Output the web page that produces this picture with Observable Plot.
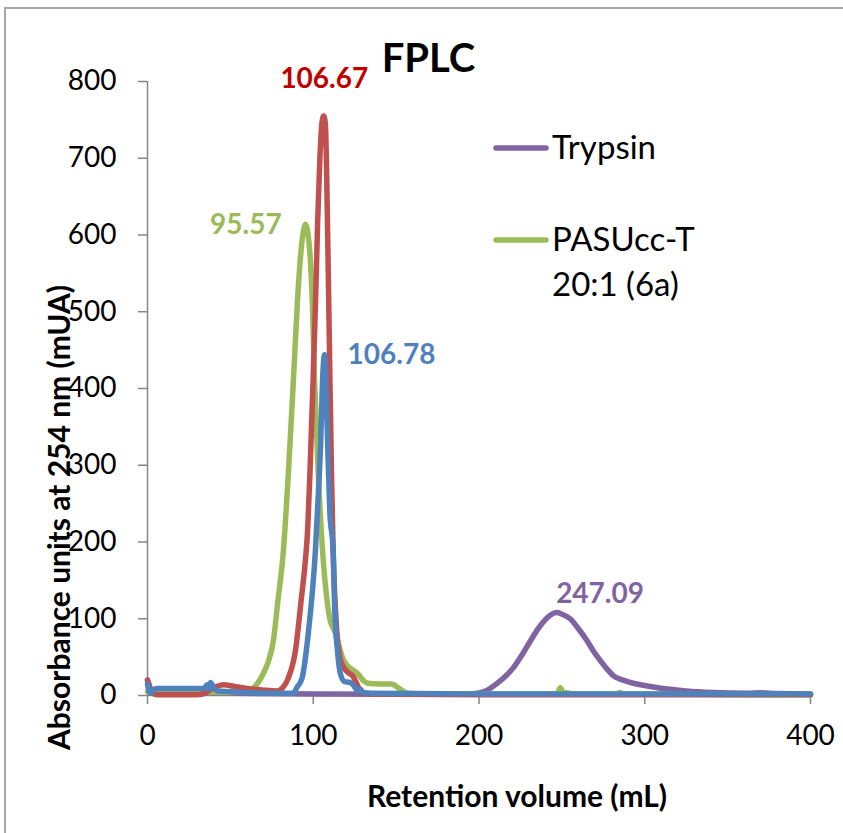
<!DOCTYPE html>
<html>
<head>
<meta charset="utf-8">
<script src="https://cdn.jsdelivr.net/npm/d3@7"></script>
<script src="https://cdn.jsdelivr.net/npm/@observablehq/plot@0.6"></script>
<style>
  html, body { margin: 0; padding: 0; background: #fff; overflow: hidden; }
  #wrap { position: relative; width: 843px; height: 833px; }
  #border { position: absolute; left: 4px; top: 7px; width: 1000px; height: 1000px;
            border-left: 2px solid #a6a6a6; border-top: 2px solid #a6a6a6; }
  #legend { position: absolute; left: 0; top: 0; }
</style>
</head>
<body>
<div id="wrap"><div id="border"></div></div>
<script>
// ---- data ----
const xTicks = [0, 100, 200, 300, 400];
const yTicks = [0, 100, 200, 300, 400, 500, 600, 700, 800];

// Trypsin (purple)
const trypsinX = [0, 1, 2, 4, 10, 50, 100, 150, 190, 199, 205, 211, 216, 221, 226, 231, 236, 241, 244, 247, 250, 255, 260, 265, 269, 273, 277, 281, 287, 293, 300, 311, 325, 341, 362, 370, 380, 400];
const trypsinY = [20, 14, 8, 5, 4, 3, 2, 1.5, 1.5, 3, 7, 16, 25, 37, 53, 71, 88, 101, 106, 108, 106, 100, 87, 72, 58, 46, 35, 26, 20, 16, 13, 9, 6, 4, 3, 3.5, 2.5, 2];

// PASUcc-T 20:1 (6a) (green)
const pasuX = [0, 10, 30, 50, 60, 65, 70, 73, 76, 78.5, 82, 85, 88, 90.5, 92.7, 95.3, 97.8, 99.4, 100.8, 103, 105.6, 108, 110, 113.4, 118.3, 121, 124, 127, 130, 133, 140, 147, 152, 157, 170, 200, 240, 247, 249, 251, 260, 283, 285, 287, 330, 360, 400];
const pasuY = [5, 4, 4, 4, 5, 12, 29, 45, 72, 120, 189, 290, 410, 515, 581, 614, 581, 515, 410, 290, 189, 130, 100, 81, 46, 38, 33, 28, 20, 16, 15, 15, 9, 3, 2, 2, 2, 2, 10, 4, 2, 2, 4, 2, 1.5, 1, 1];

// red series (peak 106.67)
const redX = [0, 1, 3, 6, 20, 30, 35, 38, 42, 46, 52, 60, 70, 78, 81.5, 85, 89.3, 92.7, 95, 96.6, 98, 99.9, 101.4, 102.7, 104, 105.2, 106.3, 107.3, 108, 109, 110, 111, 112, 114, 116, 118, 121, 124, 127, 130, 135, 150, 200, 400];
const redY = [20, 12, 3, 1, 1, 1, 3, 8, 12, 14, 12, 9, 7, 6, 10, 23, 59, 124, 170, 215, 290, 410, 515, 620, 700, 745, 755, 745, 690, 560, 420, 290, 189, 90, 50, 38, 30, 25, 12, 3, 2, 1.5, 1, 1];

// blue series (peak 106.78)
const blueX = [0, 1, 2, 4, 6, 20, 34, 36, 37, 38, 40, 42, 50, 60, 75, 88, 90, 93.3, 97, 101.3, 103, 104.5, 105.6, 106.8, 107.6, 108.8, 110, 112, 113, 114.6, 116.4, 119, 122, 124, 127, 128.5, 130, 135, 200, 300, 400];
const blueY = [15, 5, 3, 8, 9, 9, 9, 14, 8, 17, 10, 6, 5, 4, 3, 3, 10, 23, 81, 189, 260, 330, 410, 444, 410, 320, 240, 189, 110, 59, 28, 18, 17, 14, 6, 8, 4, 3, 2, 2, 2];

const seriesNames = ["Trypsin", "PASUcc-T 20:1 (6a)", "Sample A", "Sample B"];
const seriesColors = ["#8064A2", "#9BBB59", "#C0504D", "#4F81BD"];

// peak labels
const peakLabels = ["106.67", "95.57", "106.78", "247.09"];
const peakX = [106.67, 95.57, 106.78, 247.09];
const peakY = [755, 614, 444, 108];
const peakColors = ["#C00000", "#9BBB59", "#4F81BD", "#8064A2"];

// ---- build rows ----
function rows(xs, ys, name) { return xs.map((x, i) => ({x, y: ys[i], series: name})); }
const seriesData = [
  rows(trypsinX, trypsinY, seriesNames[0]),
  rows(pasuX, pasuY, seriesNames[1]),
  rows(redX, redY, seriesNames[2]),
  rows(blueX, blueY, seriesNames[3])
];
const labelOffsets = [[0, -37], [-60, 1], [67, 0], [43, -19]];

const font = "Lato, 'Open Sans', sans-serif";
const axisColor = "#868686";

const marks = [
  Plot.ruleY([0], {stroke: axisColor, strokeWidth: 1.5}),
  Plot.ruleX([0], {stroke: axisColor, strokeWidth: 1.5}),
  Plot.axisX(xTicks, {ticks: xTicks, tickSize: 9, tickPadding: 21, fontSize: 28, fill: "#000", stroke: axisColor, strokeWidth: 1.5, label: null, tickFormat: d => String(d)}),
  Plot.axisY(yTicks, {ticks: yTicks, tickSize: 9, tickPadding: 22, fontSize: 28, fill: "#000", stroke: axisColor, strokeWidth: 1.5, label: null, tickFormat: d => String(d)})
];
seriesData.forEach((d, i) => {
  marks.push(Plot.line(d, {x: "x", y: "y", stroke: seriesColors[i], strokeWidth: 5.5, curve: "monotone-x", strokeLinejoin: "round", strokeLinecap: "round"}));
});
peakLabels.forEach((t, i) => {
  marks.push(Plot.text([t], {x: () => peakX[i], y: () => peakY[i], text: d => d, fill: peakColors[i], fontSize: 28, fontWeight: "bold", dx: labelOffsets[i][0], dy: labelOffsets[i][1]}));
});
// title and axis titles
marks.push(Plot.text(["FPLC"], {frameAnchor: "top-left", text: d => d, textAnchor: "middle", lineAnchor: "middle", dx: 281, dy: -22, fontSize: 40, fontWeight: "bold", fill: "#000"}));
marks.push(Plot.text(["Retention volume (mL)"], {frameAnchor: "bottom", text: d => d, textAnchor: "middle", lineAnchor: "middle", dx: 38, dy: 102, fontSize: 30, fontWeight: "bold", fill: "#000"}));
marks.push(Plot.text(["Absorbance units at 254 nm (mUA)"], {frameAnchor: "left", text: d => d, textAnchor: "middle", lineAnchor: "middle", rotate: -90, dx: -87, dy: 129, fontSize: 30, fontWeight: "bold", fill: "#000"}));

const chart = Plot.plot({
  width: 843,
  height: 833,
  marginLeft: 147,
  marginRight: 33,
  marginTop: 81,
  marginBottom: 138,
  x: {domain: [0, 400], axis: null},
  y: {domain: [0, 800], axis: null},
  style: {fontFamily: font, background: "transparent", overflow: "visible"},
  marks
});
chart.style.position = "absolute";
chart.style.left = "0px";
chart.style.top = "0px";
document.getElementById("wrap").appendChild(chart);

// legend (Trypsin and PASUcc-T entries, as in the reference)
const legendItems = [
  {name: "Trypsin", lines: ["Trypsin"], color: seriesColors[0], y: 148},
  {name: seriesNames[1], lines: ["PASUcc-T", "20:1 (6a)"], color: seriesColors[1], y: 240}
];
const ns = "http://www.w3.org/2000/svg";
const leg = document.createElementNS(ns, "svg");
leg.setAttribute("id", "legend");
leg.setAttribute("width", 843);
leg.setAttribute("height", 833);
leg.style.position = "absolute";
legendItems.forEach(it => {
  const ln = document.createElementNS(ns, "line");
  ln.setAttribute("x1", 496); ln.setAttribute("x2", 546);
  ln.setAttribute("y1", it.y); ln.setAttribute("y2", it.y);
  ln.setAttribute("stroke", it.color); ln.setAttribute("stroke-width", 5.5);
  ln.setAttribute("stroke-linecap", "round");
  leg.appendChild(ln);
  it.lines.forEach((s, j) => {
    const tx = document.createElementNS(ns, "text");
    tx.setAttribute("x", 552);
    tx.setAttribute("y", it.y + 11 + j * 45);
    tx.setAttribute("font-family", font);
    tx.setAttribute("font-size", 33);
    tx.setAttribute("fill", "#000");
    tx.textContent = s;
    leg.appendChild(tx);
  });
});
document.getElementById("wrap").appendChild(leg);
</script>
</body>
</html>
